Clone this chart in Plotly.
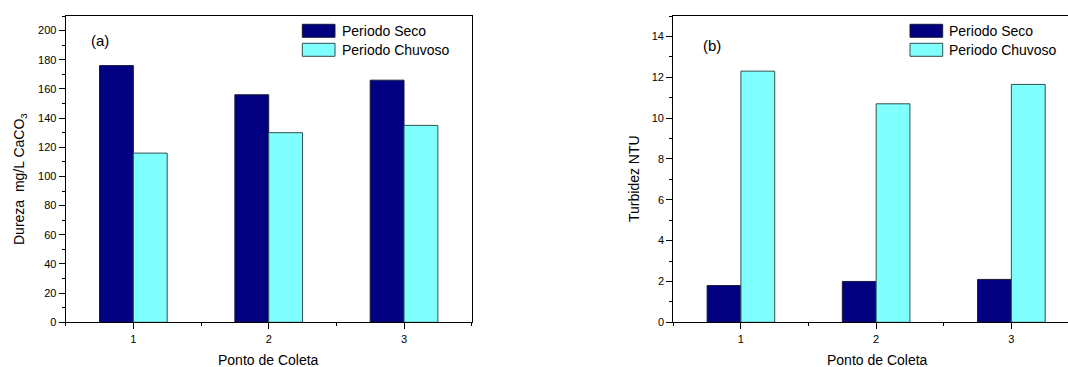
import plotly.graph_objects as go

W, H = 1068, 367

pontos = [1, 2, 3]
dureza_seco = [176, 156, 166]
dureza_chuvoso = [116, 130, 135]
turbidez_seco = [1.8, 2.0, 2.1]
turbidez_chuvoso = [12.3, 10.7, 11.65]
series_names = ["Periodo Seco", "Periodo Chuvoso"]

NAVY = "#000080"
CYAN = "#80FFFF"
EDGE = "#2f5050"
NAVY_EDGE = "#1a1a3a"
FONT = "Arial, Liberation Sans, sans-serif"

def px(x):
    return x / W

def py(y):
    return 1 - y / H

fig = go.Figure()

# panel (a)
fig.add_trace(go.Bar(x=pontos, y=dureza_seco, name=series_names[0], offset=-0.25, width=0.25,
                     marker=dict(color=NAVY, line=dict(color=NAVY_EDGE, width=1)),
                     xaxis="x", yaxis="y", showlegend=False))
fig.add_trace(go.Bar(x=pontos, y=dureza_chuvoso, name=series_names[1], offset=0, width=0.25,
                     marker=dict(color=CYAN, line=dict(color=EDGE, width=1)),
                     xaxis="x", yaxis="y", showlegend=False))
# panel (b)
fig.add_trace(go.Bar(x=pontos, y=turbidez_seco, name=series_names[0], offset=-0.25, width=0.25,
                     marker=dict(color=NAVY, line=dict(color=NAVY_EDGE, width=1)),
                     xaxis="x2", yaxis="y2", showlegend=False))
fig.add_trace(go.Bar(x=pontos, y=turbidez_chuvoso, name=series_names[1], offset=0, width=0.25,
                     marker=dict(color=CYAN, line=dict(color=EDGE, width=1)),
                     xaxis="x2", yaxis="y2", showlegend=False))

ydom = [py(322.3), py(16)]
axis_common = dict(showgrid=False, zeroline=False, showline=True, linecolor="black", linewidth=1.2,
                   ticks="outside", ticklen=6, tickwidth=1, tickcolor="black", automargin=False,
                   tickfont=dict(family=FONT, size=11, color="black"))

xa = dict(axis_common, range=[0.5, 3.5], tickvals=pontos, mirror=True,
          minor=dict(ticks="outside", ticklen=3, tickvals=[0.5, 1.5, 2.5, 3.5], tickcolor="black"))
fig.update_layout(
    template="none",
    width=W, height=H,
    margin=dict(l=0, r=0, t=0, b=0, pad=0),
    paper_bgcolor="white", plot_bgcolor="white",
    barmode="overlay",
    showlegend=False,
    font=dict(family=FONT, color="black"),
    xaxis=dict(xa, domain=[px(65.7), px(471.7)], anchor="y"),
    yaxis=dict(axis_common, domain=ydom, range=[0, 210], dtick=20, tick0=0, mirror=True, anchor="x",
               minor=dict(ticks="outside", ticklen=3, dtick=10, tick0=0, tickcolor="black")),
    xaxis2=dict(xa, domain=[px(673.3), 1.0], range=[0.5, 3.5 - (1079 - 1068) / 135.3], anchor="y2"),
    yaxis2=dict(axis_common, domain=ydom, range=[0, 15], dtick=2, tick0=0, mirror=False, anchor="x2",
                minor=dict(ticks="outside", ticklen=3, dtick=1, tick0=0, tickcolor="black")),
)

ann = []
shapes = []
def text(x, y, s, size=14, xanchor="center", angle=0):
    ann.append(dict(x=px(x), y=py(y), xref="paper", yref="paper", text=s, showarrow=False,
                    xanchor=xanchor, yanchor="middle", textangle=angle,
                    font=dict(family=FONT, size=size, color="black")))

# axis titles
text(268, 360, "Ponto de Coleta", 14)
text(877, 360, "Ponto de Coleta", 14)
text(20, 179, "Dureza\u00a0 mg/L CaCO<sub>3</sub>", 14, angle=-90)
text(634, 179, "Turbidez NTU", 14, angle=-90)
# panel labels
text(100, 41, "(a)", 15)
text(712, 45, "(b)", 15)

# legends
for (bx, tx) in [(302.3, 340), (910, 947.3)]:
    for i, (col, edge) in enumerate([(NAVY, NAVY_EDGE), (CYAN, EDGE)]):
        y0 = 24.3 + i * 19
        shapes.append(dict(type="rect", xref="paper", yref="paper",
                           x0=px(bx), x1=px(bx + 32.7), y0=py(y0 + 13), y1=py(y0),
                           fillcolor=col, line=dict(color=edge, width=1)))
        text(tx, y0 + 6.5, series_names[i], 14, xanchor="left")

fig.update_layout(annotations=ann, shapes=shapes)
fig.write_html("out.html")
